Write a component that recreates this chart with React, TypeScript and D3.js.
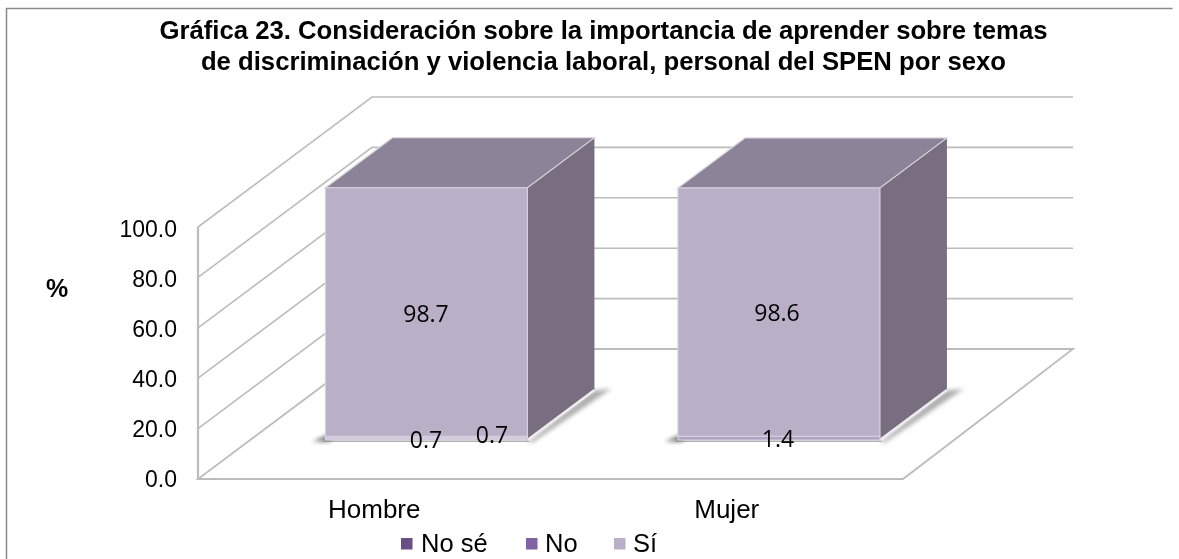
import React from "react";
import * as d3 from "d3";

const categories = ["Hombre", "Mujer"];
const seriesNames = ["No sé", "No", "Sí"];
const noSe = [0.7, 0];
const no = [0.7, 1.4];
const si = [98.7, 98.6];
const yTicks = [0, 20, 40, 60, 80, 100];
const titleLines = [
  "Gráfica 23. Consideración sobre la importancia de aprender sobre temas",
  "de discriminación y violencia laboral, personal del SPEN por sexo",
];
const seriesFront: Record<string, string[]> = {
  Hombre: ["#cdc7d8", "#cdc7d8", "#b9afc7"],
  Mujer: ["#b4a7c4", "#b0a2c0", "#b9afc7"],
};
const legendColors = ["#674f86", "#8064a2", "#b9afc7"];

const FONT = "Arial, 'Liberation Sans', sans-serif";
const GRID = "#bcbcbc";

export default function App() {
  const x = d3.scaleBand<string>().domain(categories).range([198, 903]).paddingInner(0.427).paddingOuter(0.2135);
  const y = d3.scaleLinear().domain([0, 100]).range([479, 227]);
  const yLabel = d3.scaleLinear().domain([0, 100]).range([487, 237]);
  const dxs = d3.scaleLinear().domain([0, 1]).range([0, 174]);
  const dys = d3.scaleLinear().domain([0, 1]).range([0, -130]);
  const P = (px: number, val: number, t: number) => [px + dxs(t), y(val) + dys(t)] as [number, number];
  const line = d3.line();
  const poly = (pts: [number, number][]) => line(pts) + "Z";

  const t0 = 0.3;
  const t1 = 0.685;
  const backW = 701;

  const stacks = categories.map((c, i) => {
    const parts = [noSe[i], no[i], si[i]];
    let acc = 0;
    return parts.map((v, k) => {
      const s = { name: seriesNames[k], v, from: acc, to: acc + v };
      acc += v;
      return s;
    });
  });

  const labelPos: Record<string, [number, number][]> = {
    Hombre: [[426, 448], [492, 443], [426, 322]],
    Mujer: [[0, 0], [778, 447], [777, 321]],
  };
  const legendX = [401, 526, 614];

  return (
    <svg width={1179} height={559} style={{ position: "absolute", left: 0, top: 0, background: "#fff" }} fontFamily={FONT}>
      <defs>
        <filter id="soft" x="-30%" y="-30%" width="160%" height="160%">
          <feGaussianBlur stdDeviation="2.2" />
        </filter>
        <filter id="tiny" x="-2%" y="-2%" width="104%" height="104%">
          <feGaussianBlur stdDeviation="0.4" />
        </filter>
      </defs>
      <path d="M6.5,559V8.5H1172.5" fill="none" stroke="#8a8a8a" strokeWidth={1.5} />

      <g filter="url(#tiny)">
        {/* walls and floor */}
        {yTicks.map((v) => (
          <path
            key={v}
            d={line([P(198, v, 0), P(198, v, 1), P(198 + backW, v, 1)]) as string}
            fill="none"
            stroke={v === 0 ? "none" : GRID}
            strokeWidth={1.6}
          />
        ))}
        <path
          d={poly([P(198, 0, 0), P(903, 0, 0), P(198 + backW, 0, 1), P(198, 0, 1)])}
          fill="none"
          stroke={GRID}
          strokeWidth={1.8}
        />
        <path d={line([P(198, 0, 0), P(198, 100, 0)]) as string} stroke={GRID} strokeWidth={2.2} fill="none" />

        {/* bars */}
        {categories.map((c, i) => {
          const l = x(c) as number;
          const r = l + x.bandwidth();
          const top = stacks[i][2].to;
          return (
            <g key={c}>
              {/* floor shadows */}
              <path
                d={poly([P(l - 13, -0.6, t0), P(l + 4, -0.6, t0), P(l + 4, 1, t0 + 0.06)])}
                fill="#555"
                opacity={0.85}
                filter="url(#soft)"
              />
              <path
                d={line([P(l - 2, -0.5, t0), P(r + 2, -0.5, t0)]) as string}
                stroke="#8d8d8d"
                strokeWidth={1.6}
                fill="none"
                opacity={0.7}
              />
              <path
                d={poly([P(r, -1, t0), P(r + 5, -1, t0), P(r + 15, 0, t1 + 0.01), P(r - 2, -0.3, t1)])}
                fill="#777"
                opacity={0.6}
                filter="url(#soft)"
              />
              <path
                d={poly([P(r, 0, t0), P(r, 0, t1), P(r, top, t1), P(r, top, t0)])}
                fill="#786e80"
              />
              <path
                d={poly([P(l, top, t0), P(r, top, t0), P(r, top, t1), P(l, top, t1)])}
                fill="#8c8398"
                stroke="#dbd8df"
                strokeWidth={1.2}
              />
              <path d={line([P(r, 0, t0), P(r, 0, t1)]) as string} stroke="#eeecf1" strokeWidth={2.4} fill="none" />
              {stacks[i].filter((s) => s.v > 0).map((s) => (
                <path
                  key={s.name}
                  d={poly([P(l, s.from, t0), P(r, s.from, t0), P(r, s.to, t0), P(l, s.to, t0)])}
                  fill={seriesFront[c][seriesNames.indexOf(s.name)]}
                  stroke="#d6d0e0"
                  strokeWidth={1.2}
                />
              ))}
            </g>
          );
        })}

        {/* tick labels */}
        <g fill="#000">
          {yTicks.map((v) => (
            <text key={v} x={177} y={yLabel(v)} fontSize={23} textAnchor="end">
              {v.toFixed(1)}
            </text>
          ))}
          {categories.map((c) => (
            <text key={c} x={(x(c) as number) + x.bandwidth() / 2} y={518} fontSize={26} textAnchor="middle">
              {c}
            </text>
          ))}
          <text x={57} y={297} fontSize={25} fontWeight="bold" textAnchor="middle">%</text>
        </g>

        {/* value labels */}
        <g fontSize={23} fontFamily="'Open Sans', 'Noto Sans', sans-serif" fill="#000" textAnchor="middle">
          {categories.map((c, i) =>
            stacks[i].map((s, k) =>
              s.v > 0 ? (
                <text key={s.name} x={labelPos[c][k][0]} y={labelPos[c][k][1]}>
                  {s.v.toFixed(1)}
                </text>
              ) : null,
            ),
          )}
        </g>

        {/* title */}
        <g fontSize={25.7} fontWeight="bold" fill="#000" textAnchor="middle">
          {titleLines.map((t, i) => (
            <text key={t} x={603.5} y={39 + i * 31}>{t}</text>
          ))}
        </g>

        {/* legend */}
        <g fontSize={25.5} fill="#000">
          {seriesNames.map((s, i) => (
            <g key={s}>
              <rect x={legendX[i]} y={538} width={11.5} height={11.5} fill={legendColors[i]} />
              <text x={legendX[i] + (i === 0 ? 20 : 19)} y={552}>{s}</text>
            </g>
          ))}
        </g>
      </g>
    </svg>
  );
}
